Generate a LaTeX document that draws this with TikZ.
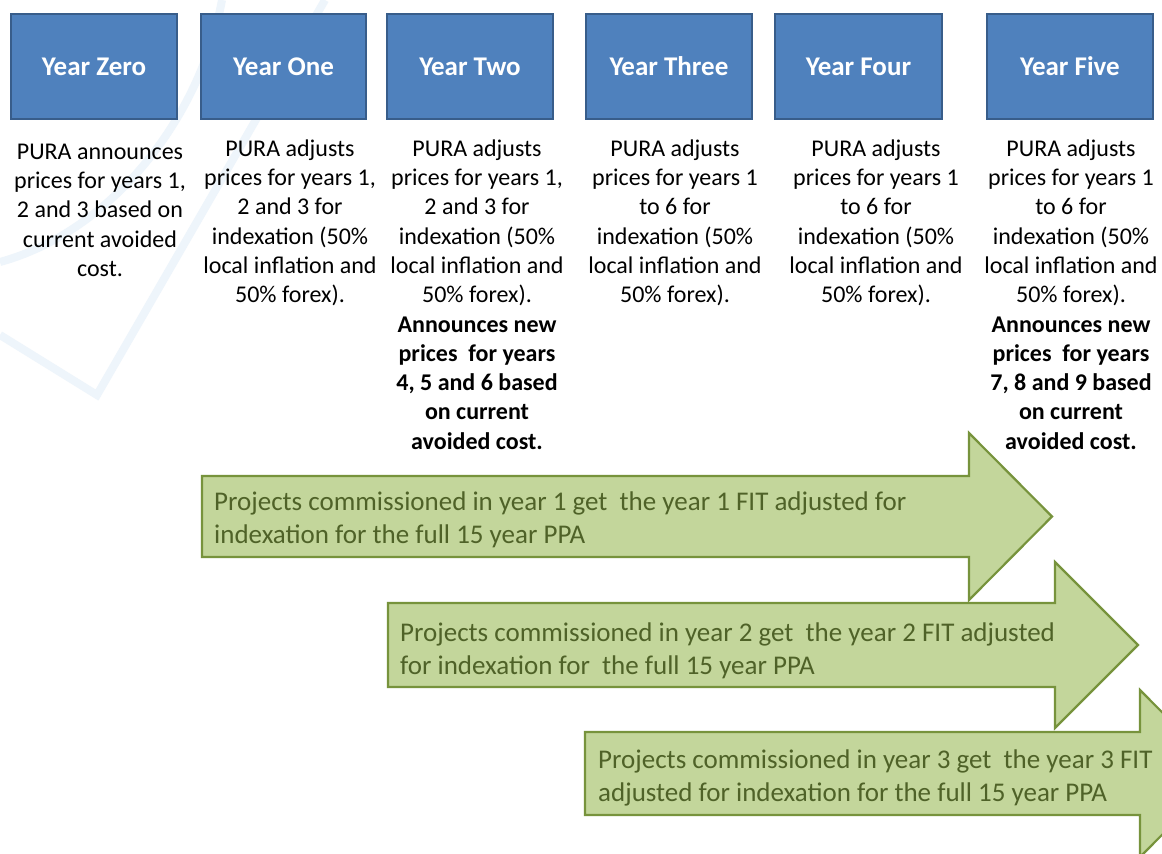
\documentclass[tikz,border=0pt]{standalone}
\usepackage{fontspec}
\setmainfont{Carlito}
\definecolor{boxfill}{HTML}{4F81BD}
\definecolor{boxline}{HTML}{385D8A}
\definecolor{arrfill}{HTML}{C3D69B}
\definecolor{arrline}{HTML}{77933C}
\definecolor{arrtext}{HTML}{4F6228}
\definecolor{wmark}{HTML}{EEF5FB}
\tikzset{
  yearbox/.style={draw=boxline, fill=boxfill, line width=2pt},
  yeartitle/.style={text=white, font=\fontsize{27}{32}\selectfont\bfseries, inner sep=0pt},
  desc/.style={anchor=north, align=center, inner sep=0pt, font=\fontsize{24}{29.3}\selectfont, text=black},
  bigarrow/.style={draw=arrline, fill=arrfill, line width=2.2pt, line join=miter},
  arrowtext/.style={anchor=north west, align=left, inner sep=0pt, font=\fontsize{27}{33}\selectfont, text=arrtext},
  watermark/.style={draw=wmark, line width=8pt, line join=miter}
}
\newcommand{\fl}{\rule{0pt}{20pt}}
\newcommand{\fla}{\rule{0pt}{22pt}}
\begin{document}
\begin{tikzpicture}[x=1pt, y=-1pt]
\useasboundingbox (0,0) rectangle (1162,854);
\clip (0,0) rectangle (1162,854);
\fill[white] (0,0) rectangle (1162,854);
% faint watermark
\draw[watermark] (0,335) -- (97,395) -- (325,0);
\draw[watermark] (0,262) .. controls (110,232) and (200,120) .. (222,0);

% year boxes
\draw[yearbox] (11,14) rectangle node[yeartitle] (t0) {Year Zero} (177,119);
\draw[yearbox] (201,14) rectangle node[yeartitle] (t1) {Year One} (366,119);
\draw[yearbox] (387,14) rectangle node[yeartitle] (t2) {Year Two} (553,119);
\draw[yearbox] (586,14) rectangle node[yeartitle] (t3) {Year Three} (752,119);
\draw[yearbox] (775,14) rectangle node[yeartitle] (t4) {Year Four} (942,119);
\draw[yearbox] (987,14) rectangle node[yeartitle] (t5) {Year Five} (1153,119);

% descriptions
\node[desc] (d0) at (100,139) {\fl PURA announces\\prices for years 1,\\2 and 3 based on\\current avoided\\cost.};
\node[desc] (d1) at (290,136) {\fl PURA adjusts\\prices for years 1,\\2 and 3 for\\indexation (50\%\\local inflation and\\50\% forex).};
\node[desc] (d2) at (477,136) {\fl PURA adjusts\\prices for years 1,\\2 and 3 for\\indexation (50\%\\local inflation and\\50\% forex).\\\textbf{Announces new}\\\textbf{prices\ \ for years}\\\textbf{4, 5 and 6 based}\\\textbf{on current}\\\textbf{avoided cost.}};
\node[desc] (d3) at (675,136) {\fl PURA adjusts\\prices for years 1\\to 6 for\\indexation (50\%\\local inflation and\\50\% forex).};
\node[desc] (d4) at (876,136) {\fl PURA adjusts\\prices for years 1\\to 6 for\\indexation (50\%\\local inflation and\\50\% forex).};
\node[desc] (d5) at (1071,136) {\fl PURA adjusts\\prices for years 1\\to 6 for\\indexation (50\%\\local inflation and\\50\% forex).\\\textbf{Announces new}\\\textbf{prices\ \ for years}\\\textbf{7, 8 and 9 based}\\\textbf{on current}\\\textbf{avoided cost.}};

% big arrows
\draw[bigarrow] (202,476) -- (969,476) -- (969,433) -- (1052,516.5) -- (969,600) -- (969,557) -- (202,557) -- cycle;
\draw[bigarrow] (388,603) -- (1055,603) -- (1055,562) -- (1138,645) -- (1055,728) -- (1055,687) -- (388,687) -- cycle;
\draw[bigarrow] (585,732) -- (1140,732) -- (1140,690) -- (1223,773.5) -- (1140,857) -- (1140,815) -- (585,815) -- cycle;

\node[arrowtext] (a1) at (214,488) {\fla Projects commissioned in year 1 get\ \ the year 1 FIT adjusted for\\indexation for the full 15 year PPA};
\node[arrowtext] (a2) at (400,619) {\fla Projects commissioned in year 2 get\ \ the year 2 FIT adjusted\\for indexation for\ \ the full 15 year PPA};
\node[arrowtext] (a3) at (598,746) {\fla Projects commissioned in year 3 get\ \ the year 3 FIT\\adjusted for indexation for the full 15 year PPA};
\end{tikzpicture}
\end{document}
